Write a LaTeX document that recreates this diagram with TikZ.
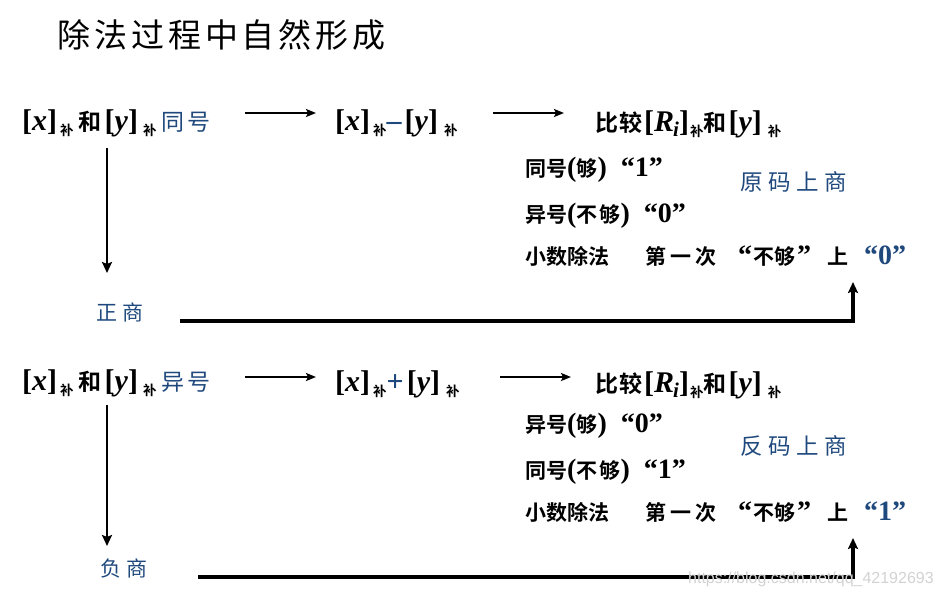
\documentclass[tikz,border=0pt]{standalone}
\usepackage{fontspec}
\setmainfont{Liberation Serif}
\newfontfamily\cjk{Noto Sans CJK SC}
\newfontfamily\cjkb{Noto Sans CJK SC Bold}
\newfontfamily\cjkl{Noto Sans CJK SC}[LetterSpace=12]
\newfontfamily\cjkt{Noto Sans CJK SC}[LetterSpace=12]
\newfontfamily\cjkw{Noto Sans CJK SC}[LetterSpace=25]
\newfontfamily\wmfont{Liberation Sans}
\usetikzlibrary{arrows.meta}
\definecolor{navy}{HTML}{1F497D}
\definecolor{wmgray}{HTML}{D2D2D2}
\newcommand\Bu{\raisebox{-5pt}{\fontsize{13.5}{13.5}\selectfont\cjkb 补}}
\newcommand\Lt[1]{{\fontsize{30}{30}\selectfont\bfseries #1}}
\newcommand\Zb[1]{{\fontsize{23}{23}\selectfont\cjkb #1}}
\newcommand\Zn[1]{{\fontsize{23}{23}\selectfont\cjkl\color{navy}#1}}
\newcommand\Ls[1]{{\fontsize{28}{28}\selectfont\bfseries #1}}
\newcommand\Zs[1]{{\fontsize{21}{21}\selectfont\cjkb #1}}
\newcommand\Ri{\textit{R}\kern-1pt\raisebox{-5pt}{\fontsize{21}{21}\selectfont\textit{i}}}
\newcommand\RowA[1]{\Lt{[\textit{x}]}\hspace{3pt}\Bu\hspace{5pt}\Zb{和}\hspace{3pt}\Lt{[\textit{y}]}\hspace{5pt}\Bu\hspace{5pt}\Zn{#1}}
\newcommand\RowB[1]{\Lt{[\textit{x}]}\hspace{3pt}\Bu{\color{navy}\Lt{#1}}\hspace{3pt}\Lt{[\textit{y}]}\hspace{6pt}\Bu}
\newcommand\RowC{\Zb{比}\hspace{1pt}\Zb{较}\hspace{2pt}\Lt{[\Ri]}\hspace{1pt}\Bu\Zb{和}\hspace{2pt}\Lt{[\textit{y}]}\hspace{6pt}\Bu}
\newcommand\RowD[1]{\Zs{小数除法}\hspace{36pt}\Zs{第}\hspace{4pt}\Zs{一}\hspace{4pt}\Zs{次}\hspace{22pt}\Ls{“}\hspace{1pt}\Zs{不够}\hspace{2pt}\Ls{”}\hspace{16pt}\Zs{上}\hspace{16pt}\Ls{\textcolor{navy}{“#1”}}}
\newcommand\RowE[3]{\Zs{#1}\Ls{(}\Zs{#2}\Ls{)}\hspace{14pt}\Ls{“#3”}}
\tikzset{
  txt/.style={inner sep=0pt, anchor=base west},
  lbl/.style={inner sep=0pt, anchor=base west, text=navy, font=\fontsize{22.5}{22.5}\selectfont\cjkw},
  harrow/.style={line width=2.4pt, -{Stealth[length=10pt,width=8pt,inset=2pt]}},
  varrow/.style={line width=2.8pt, -{Stealth[length=11pt,width=10pt,inset=2pt]}},
  back/.style={line width=3.2pt, -{Stealth[length=11pt,width=10pt,inset=2pt]}},
}
\begin{document}
\begin{tikzpicture}[x=1pt,y=-1pt]
\useasboundingbox (0,0) rectangle (940,598);
% title
\node[inner sep=0pt, anchor=west] (title) at (57,35) {\fontsize{33}{33}\selectfont\cjkt 除法过程中自然形成};

% ---- block 1
\node[txt] (a1) at (22,130) {\RowA{同号}};
\node[txt] (b1) at (335,130) {\RowB{–}};
\node[txt] (c1) at (595,131) {\RowC};
\node[txt] (d11) at (525,176) {\RowE{同号}{够}{1}};
\node[txt] (d12) at (525,222) {\RowE{异号}{不\hspace{2pt}够}{0}};
\node[txt] (d13) at (525,264) {\RowD{0}};
\node[lbl] (e1) at (740,190) {原码上商};
\node[lbl, font=\fontsize{21}{21}\selectfont\cjkw] (q1) at (96,320) {正商};

\coordinate (h11s) at (245,113);
\coordinate (h11e) at (316,113);
\coordinate (h12s) at (493,113);
\coordinate (h12e) at (564,113);
\coordinate (v1s) at (107,148);
\coordinate (v1e) at (107,273);
\coordinate (r1s) at (180,321);
\coordinate (r1c) at (853,321);
\coordinate (r1e) at (853,282);
\draw[harrow] (h11s) -- (h11e);
\draw[harrow] (h12s) -- (h12e);
\draw[varrow] (v1s) -- (v1e);
\draw[back] (r1s) -- (r1c) -- (r1e);

% ---- block 2
\node[txt] (a2) at (22,390) {\RowA{异号}};
\node[txt] (b2) at (335,391) {\RowB{+}};
\node[txt] (c2) at (595,392) {\RowC};
\node[txt] (d21) at (525,432) {\RowE{异号}{够}{0}};
\node[txt] (d22) at (525,478) {\RowE{同号}{不\hspace{2pt}够}{1}};
\node[txt] (d23) at (525,520) {\RowD{1}};
\node[lbl] (e2) at (740,454) {反码上商};
\node[lbl, font=\fontsize{21}{21}\selectfont\cjkw] (q2) at (100,576) {负商};

\coordinate (h21s) at (245,377);
\coordinate (h21e) at (316,377);
\coordinate (h22s) at (500,377);
\coordinate (h22e) at (571,377);
\coordinate (v2s) at (107,405);
\coordinate (v2e) at (107,546);
\coordinate (r2s) at (198,577);
\coordinate (r2c) at (853,577);
\coordinate (r2e) at (853,538);
\draw[harrow] (h21s) -- (h21e);
\draw[harrow] (h22s) -- (h22e);
\draw[varrow] (v2s) -- (v2e);
\draw[back] (r2s) -- (r2c) -- (r2e);

% watermark
\node[inner sep=0pt, anchor=west, text=wmgray, font=\fontsize{16}{16}\selectfont\wmfont] (wm) at (688,579) {https://blog.csdn.net/qq\_42192693};
\end{tikzpicture}
\end{document}
